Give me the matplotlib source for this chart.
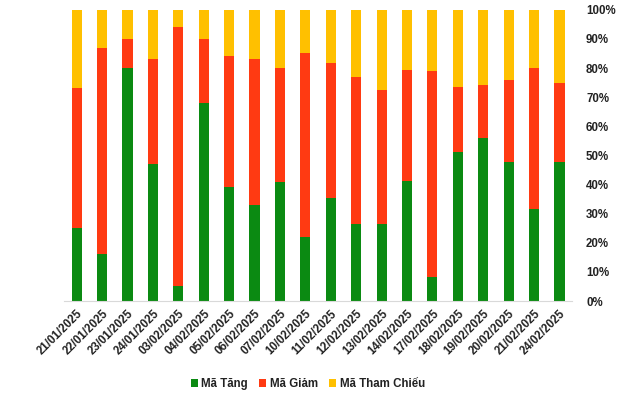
import numpy as np
import matplotlib
matplotlib.use("Agg")
import matplotlib.pyplot as plt
from matplotlib.ticker import PercentFormatter

plt.rcParams['font.family'] = ['Liberation Sans', 'DejaVu Sans']

dates = ['21/01/2025', '22/01/2025', '23/01/2025', '24/01/2025', '03/02/2025',
         '04/02/2025', '05/02/2025', '06/02/2025', '07/02/2025', '10/02/2025',
         '11/02/2025', '12/02/2025', '13/02/2025', '14/02/2025', '17/02/2025',
         '18/02/2025', '19/02/2025', '20/02/2025', '21/02/2025', '24/02/2025']
ma_tang = [25.1, 16.2, 80.1, 47.1, 5.2, 68.0, 39.2, 33.0, 40.9, 22.0,
           35.4, 26.5, 26.5, 41.2, 8.2, 51.2, 56.0, 47.8, 31.6, 47.8]
ma_giam = [48.1, 70.7, 9.9, 36.1, 89.0, 22.0, 45.0, 50.2, 39.2, 63.2,
           46.4, 50.5, 46.0, 38.2, 70.8, 22.3, 18.2, 28.1, 48.5, 27.1]
ma_tham_chieu = [100 - a - b for a, b in zip(ma_tang, ma_giam)]

fig = plt.figure(figsize=(6.4, 3.94), dpi=100)
ax = fig.add_axes([0.1, 0.236, 0.794, 0.739])

x = np.arange(len(dates))
w = 0.4
ax.bar(x, ma_tang, w, color='#0B8A12', label='Mã Tăng')
ax.bar(x, ma_giam, w, bottom=ma_tang, color='#FF3A12', label='Mã Giảm')
bottom2 = [a + b for a, b in zip(ma_tang, ma_giam)]
ax.bar(x, ma_tham_chieu, w, bottom=bottom2, color='#FFC000', label='Mã Tham Chiếu')

ax.set_xlim(-0.5, len(dates) - 0.5)
ax.set_ylim(0, 100)
ax.yaxis.tick_right()
ax.set_yticks(np.arange(0, 101, 10))
ax.yaxis.set_major_formatter(PercentFormatter(decimals=0))
ax.set_xticks(x)
ax.set_xticklabels(dates, rotation=45, ha='right', rotation_mode='anchor')
ax.tick_params(axis='both', length=0, labelsize=8.3)
ax.tick_params(axis='y', pad=10)
ax.tick_params(axis='x', pad=5)
for lbl in ax.get_xticklabels() + ax.get_yticklabels():
    lbl.set_fontweight('bold')
    lbl.set_color('#222222')

for s in ['top', 'left', 'right']:
    ax.spines[s].set_visible(False)
ax.spines['bottom'].set_color('#D9D9D9')

fig.legend(loc='center', bbox_to_anchor=(0.481, 0.025), ncol=3, frameon=False,
           prop={'size': 8.3, 'weight': 'bold'}, handlelength=0.6,
           handleheight=0.6, handletextpad=0.3, columnspacing=1.0,
           labelcolor='#222222')

fig.savefig('out.png')
